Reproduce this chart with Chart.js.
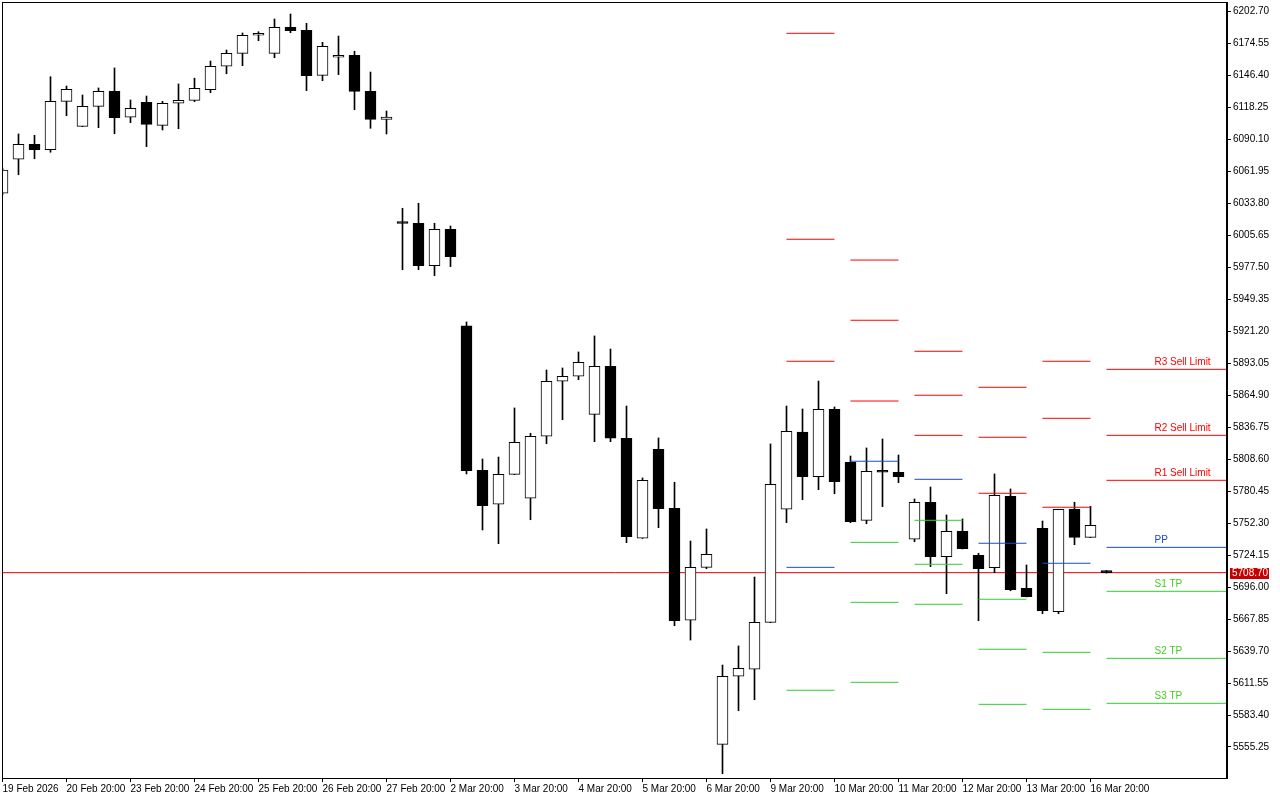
<!DOCTYPE html>
<html>
<head>
<meta charset="utf-8">
<title>Candles with daily pivots</title>
<script src="https://cdn.jsdelivr.net/npm/chart.js@4.4.1/dist/chart.umd.min.js"></script>
<style>
  html, body { margin: 0; padding: 0; background: #fff; }
  #wrap { width: 1280px; height: 800px; }
</style>
</head>
<body>
<div id="wrap"><canvas id="chart" width="1280" height="800"></canvas></div>
<script>
// ===== Data =====
const opens = [
  6042.7, 6072.6, 6085.8, 6081.0, 6123.6, 6101.6, 6119.2, 6132.4, 6109.6, 6122.8,
  6102.5, 6121.9, 6124.5, 6133.9, 6154.5, 6165.9, 6181.8, 6165.9, 6188.8, 6186.2,
  6146.5, 6162.4, 6164.1, 6132.4, 6107.8, 6017.4, 6016.3, 5978.9, 6011.0, 5925.9,
  5798.8, 5768.9, 5795.3, 5774.2, 5828.8, 5877.2, 5881.6, 5848.1, 5890.4, 5827.0,
  5739.0, 5817.3, 5765.4, 5666.8, 5713.4, 5557.6, 5617.5, 5623.7, 5665.0, 5764.5,
  5832.5, 5793.2, 5852.5, 5805.9, 5754.8, 5798.2, 5797.1, 5738.1, 5770.7, 5722.8,
  5745.1, 5724.0, 5713.1, 5775.9, 5695.0, 5747.8, 5674.4, 5764.5, 5739.8, 5709.8
];
const highs = [
  6064.9, 6094.9, 6093.7, 6145.3, 6137.1, 6129.2, 6135.4, 6153.0, 6124.8, 6128.3,
  6123.6, 6138.9, 6144.0, 6159.1, 6168.8, 6183.8, 6184.9, 6196.1, 6200.5, 6192.3,
  6175.6, 6181.1, 6167.7, 6149.4, 6115.1, 6029.5, 6033.9, 6016.3, 6013.9, 5929.4,
  5808.8, 5810.5, 5853.7, 5831.4, 5887.1, 5888.9, 5903.0, 5917.1, 5905.6, 5855.4,
  5792.1, 5827.3, 5788.3, 5736.6, 5747.2, 5627.4, 5644.2, 5704.9, 5822.0, 5855.4,
  5852.8, 5877.4, 5854.6, 5811.4, 5818.5, 5826.4, 5812.3, 5773.6, 5784.1, 5759.5,
  5756.0, 5725.8, 5795.6, 5782.4, 5715.5, 5754.2, 5764.5, 5770.7, 5767.1, 5710.6
];
const lows = [
  6041.2, 6059.0, 6073.1, 6078.8, 6111.0, 6101.3, 6100.4, 6095.1, 6104.8, 6083.7,
  6098.4, 6099.5, 6123.3, 6131.2, 6147.9, 6155.0, 6177.0, 6162.0, 6184.0, 6133.0,
  6141.8, 6147.1, 6116.3, 6099.9, 6094.9, 5975.4, 5975.4, 5970.1, 5978.1, 5795.6,
  5746.3, 5734.2, 5795.0, 5755.3, 5822.2, 5843.4, 5878.6, 5824.0, 5824.0, 5735.1,
  5738.8, 5748.3, 5662.0, 5649.4, 5712.2, 5531.8, 5587.2, 5596.9, 5664.7, 5752.7,
  5772.9, 5781.8, 5778.2, 5752.7, 5751.8, 5766.8, 5787.9, 5736.0, 5714.0, 5690.2,
  5729.6, 5666.4, 5708.7, 5692.8, 5687.4, 5672.6, 5672.6, 5733.3, 5739.6, 5708.4
];
const closes = [
  6063.2, 6085.8, 6081.0, 6123.6, 6134.2, 6119.2, 6132.4, 6109.2, 6117.5, 6103.4,
  6121.9, 6124.5, 6135.1, 6154.5, 6165.9, 6181.7, 6182.0, 6188.8, 6185.8, 6146.2,
  6172.1, 6164.1, 6132.4, 6107.8, 6109.8, 6016.1, 5978.9, 6011.0, 5986.9, 5798.5,
  5767.7, 5795.3, 5823.5, 5828.8, 5877.2, 5881.6, 5893.9, 5890.4, 5827.0, 5740.4,
  5790.0, 5765.0, 5666.4, 5713.4, 5724.9, 5617.5, 5624.5, 5665.0, 5786.5, 5833.2,
  5793.2, 5852.5, 5788.8, 5753.6, 5797.9, 5797.1, 5793.2, 5770.7, 5722.8, 5745.1,
  5729.8, 5712.2, 5776.8, 5693.7, 5687.6, 5675.2, 5764.5, 5739.8, 5750.4, 5708.7
];

const currentPrice = 5708.70;

// x axis labels sit on every 4th candle
const xTickIndex = [0, 4, 8, 12, 16, 20, 24, 28, 32, 36, 40, 44, 48, 52, 56, 60, 64, 68];
const xTickLabels = [
  '19 Feb 2026', '20 Feb 20:00', '23 Feb 20:00', '24 Feb 20:00', '25 Feb 20:00',
  '26 Feb 20:00', '27 Feb 20:00', '2 Mar 20:00', '3 Mar 20:00', '4 Mar 20:00',
  '5 Mar 20:00', '6 Mar 20:00', '9 Mar 20:00', '10 Mar 20:00', '11 Mar 20:00',
  '12 Mar 20:00', '13 Mar 20:00', '16 Mar 20:00'
];
const yTickValues = [
  6202.70, 6174.55, 6146.40, 6118.25, 6090.10, 6061.95, 6033.80, 6005.65,
  5977.50, 5949.35, 5921.20, 5893.05, 5864.90, 5836.75, 5808.60, 5780.45,
  5752.30, 5724.15, 5696.00, 5667.85, 5639.70, 5611.55, 5583.40, 5555.25
];

// daily pivot levels (candle index where each day starts / ends; null = to the edge)
const pivotStart = [49, 53, 57, 61, 65, 69];
const pivotEnd = [52, 56, 60, 64, 68, null];
const pivotR3 = [6183.5, 5983.9, 5903.6, 5871.9, 5894.8, 5887.7];
const pivotR2 = [6002.2, 5930.9, 5864.9, 5827.9, 5844.6, 5829.6];
const pivotR1 = [5894.8, 5859.8, 5829.6, 5778.6, 5766.3, 5790.0];
const pivotPP = [5713.4, 5806.8, 5790.9, 5734.6, 5717.0, 5731.0];
const pivotS1 = [5605.2, 5735.4, 5754.8, 5685.3, 5638.6, 5692.3];
const pivotS2 = [null, 5682.6, 5716.1, 5641.3, 5588.4, 5633.3];
const pivotS3 = [null, 5612.2, 5680.9, 5592.8, null, 5593.7];
const pivotNames = ['R3 Sell Limit', 'R2 Sell Limit', 'R1 Sell Limit', 'PP', 'S1 TP', 'S2 TP', 'S3 TP'];
const pivotLabelAt = 72;

// ===== Scale range =====
const X_MIN = -0.03125;
const X_MAX = 76.53125;
const Y_MIN = 5527.96;
const Y_MAX = 6211.06;

const RED = '#ff0000';
const BLUE = '#1a4cc8';
const GREEN = '#33cc33';
const GREEN_TEXT = '#44cc22';

Chart.defaults.font.family = '"Liberation Sans", Arial, sans-serif';
Chart.defaults.font.size = 10;
Chart.defaults.color = '#000';

function pivotSeries(levels) {
  const pts = [];
  pivotStart.forEach((s, i) => {
    const e = pivotEnd[i] === null ? X_MAX : pivotEnd[i];
    pts.push({ x: s, y: levels[i] }, { x: e, y: levels[i] });
    pts.push({ x: e + 0.5, y: null });
  });
  return pts;
}

function pivotDataset(levels, color) {
  return {
    type: 'line',
    data: pivotSeries(levels),
    borderColor: color,
    borderWidth: 1,
    pointRadius: 0,
    spanGaps: false,
    order: 0
  };
}

const bodies = opens.map((o, i) => ({ x: i, y: [o, closes[i]] }));
const wicks = lows.map((l, i) => ({ x: i, y: [l, highs[i]] }));
const bodyColors = opens.map((o, i) => (closes[i] >= o ? '#ffffff' : '#000000'));

// ===== Overlay: frame, pivot labels, price tag =====
const overlay = {
  id: 'overlay',
  afterDraw(chart) {
    const { ctx, chartArea: a, scales } = chart;
    const xs = scales.x, ys = scales.y;
    ctx.save();
    ctx.strokeStyle = '#000';
    ctx.lineWidth = 1;
    ctx.strokeRect(a.left + 0.5, a.top + 0.5, a.right - a.left - 1, a.bottom - a.top);

    // labels of the latest pivot set
    const last = pivotStart.length - 1;
    const levels = [pivotR3, pivotR2, pivotR1, pivotPP, pivotS1, pivotS2, pivotS3];
    const colors = [RED, RED, RED, BLUE, GREEN_TEXT, GREEN_TEXT, GREEN_TEXT];
    ctx.font = '10px "Liberation Sans", Arial, sans-serif';
    ctx.textAlign = 'left';
    ctx.textBaseline = 'bottom';
    levels.forEach((lv, i) => {
      if (lv[last] === null) return;
      ctx.fillStyle = colors[i];
      ctx.fillText(pivotNames[i], xs.getPixelForValue(pivotLabelAt), ys.getPixelForValue(lv[last]) - 2);
    });

    // current price tag
    const py = ys.getPixelForValue(currentPrice);
    ctx.fillStyle = '#c80000';
    ctx.fillRect(a.right + 3, Math.round(py) - 5, 39, 11);
    ctx.fillStyle = '#fff';
    ctx.textBaseline = 'middle';
    ctx.fillText(currentPrice.toFixed(2), a.right + 5, Math.round(py) + 0.5);
    ctx.restore();
  }
};

new Chart(document.getElementById('chart').getContext('2d'), {
  type: 'bar',
  data: {
    datasets: [
      pivotDataset(pivotR3, RED),
      pivotDataset(pivotR2, RED),
      pivotDataset(pivotR1, RED),
      pivotDataset(pivotPP, BLUE),
      pivotDataset(pivotS1, GREEN),
      pivotDataset(pivotS2, GREEN),
      pivotDataset(pivotS3, GREEN),
      {
        type: 'bar',
        data: bodies,
        backgroundColor: bodyColors,
        borderColor: '#000',
        borderWidth: 1,
        borderSkipped: false,
        barThickness: 11,
        minBarLength: 2,
        grouped: false,
        order: 1
      },
      {
        type: 'bar',
        data: wicks,
        backgroundColor: '#000',
        borderWidth: 0,
        barThickness: 1,
        grouped: false,
        order: 2
      },
      {
        type: 'line',
        data: [{ x: X_MIN, y: currentPrice }, { x: X_MAX, y: currentPrice }],
        borderColor: '#e00000',
        borderWidth: 1,
        pointRadius: 0,
        order: 3
      }
    ]
  },
  options: {
    responsive: false,
    devicePixelRatio: 1,
    animation: false,
    events: [],
    layout: { padding: { left: 2, top: 2, right: 0, bottom: 0 } },
    plugins: { legend: { display: false }, tooltip: { enabled: false } },
    scales: {
      x: {
        type: 'linear',
        min: X_MIN,
        max: X_MAX,
        offset: false,
        grid: { offset: false, drawOnChartArea: false, tickLength: 4, color: '#000' },
        border: { color: '#000' },
        ticks: {
          autoSkip: false,
          maxRotation: 0,
          minRotation: 0,
          align: 'start',
          padding: 1,
          callback: (v, i) => xTickLabels[i]
        },
        afterBuildTicks: s => { s.ticks = xTickIndex.map(v => ({ value: v })); },
        afterFit: s => { s.height = 22; s.paddingLeft = 0; s.paddingRight = 0; }
      },
      y: {
        type: 'linear',
        position: 'right',
        min: Y_MIN,
        max: Y_MAX,
        grid: { drawOnChartArea: false, tickLength: 4, color: '#000' },
        border: { color: '#000' },
        ticks: {
          autoSkip: false,
          padding: 2,
          callback: v => v.toFixed(2)
        },
        afterBuildTicks: s => { s.ticks = yTickValues.map(v => ({ value: v })); },
        afterFit: s => { s.width = 53; s.paddingTop = 0; s.paddingBottom = 0; }
      }
    }
  },
  plugins: [overlay]
});
</script>
</body>
</html>
